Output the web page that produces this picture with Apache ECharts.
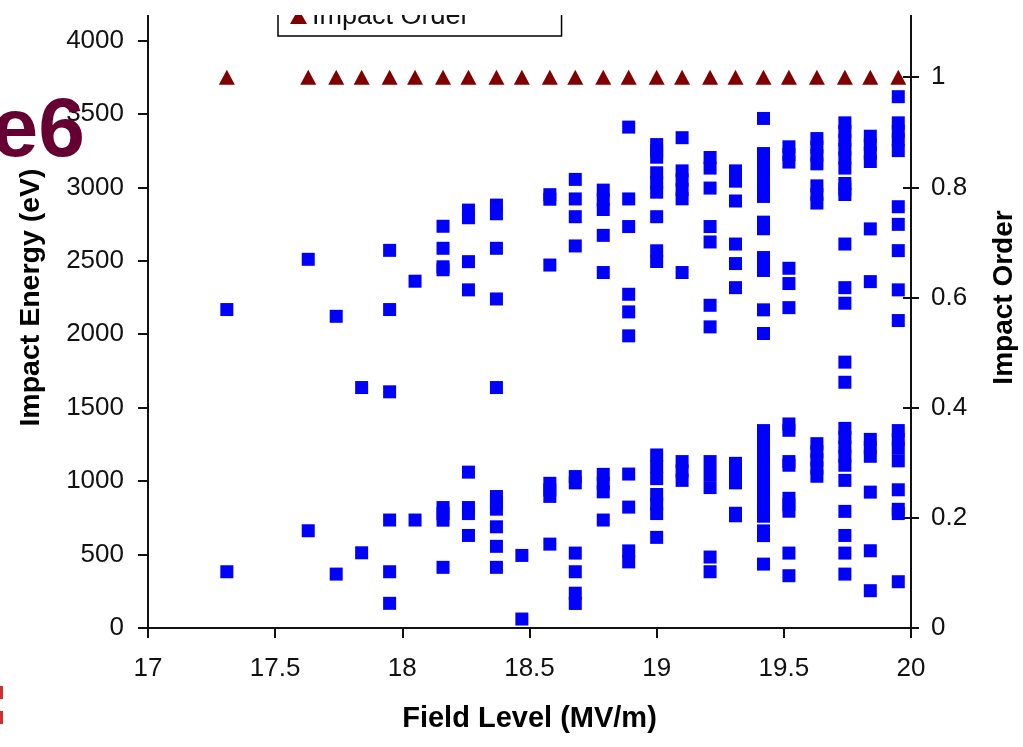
<!DOCTYPE html>
<html>
<head>
<meta charset="utf-8">
<script src="https://cdn.jsdelivr.net/npm/echarts@6/dist/echarts.min.js"></script>
<style>
html,body{margin:0;padding:0;background:#fff;}
#chart{width:1023px;height:747px;}
</style>
</head>
<body>
<div id="chart"></div>
<script>
// Field levels (MV/m) of each test column
const fieldLevels = [17.31, 17.63, 17.74, 17.84, 17.95, 18.05, 18.16, 18.26, 18.37, 18.47, 18.58, 18.68,
                     18.79, 18.89, 19.0, 19.1, 19.21, 19.31, 19.42, 19.52, 19.63, 19.74, 19.84, 19.95];

// Impact energies (eV) read for each field level, same order as fieldLevels
const energyByLevel = [
  [2168, 383],
  [2510, 662],
  [2122, 367],
  [1637, 512],
  [2571, 2168, 1608, 735, 383, 168],
  [2361, 735],
  [2735, 2585, 2459, 2439, 820, 778, 734, 413],
  [2845, 2793, 2494, 2302, 1061, 820, 779, 630],
  [2879, 2820, 2585, 2240, 1637, 895, 852, 809, 689, 556, 413],
  [494, 61],
  [2950, 2919, 2471, 985, 940, 896, 571],
  [3054, 2921, 2800, 2601, 1031, 988, 510, 383, 237, 167],
  [2981, 2915, 2849, 2673, 2420, 1046, 986, 927, 735],
  [3410, 2921, 2733, 2272, 2152, 1989, 1048, 823, 525, 450],
  [3291, 3248, 3205, 3099, 3033, 2967, 2800, 2568, 2495, 1178, 1098, 1017, 909, 844, 779, 617],
  [3338, 3112, 3050, 2985, 2922, 2420, 1133, 1069, 1005],
  [3203, 3131, 2995, 2733, 2628, 2197, 2050, 1133, 1045, 956, 483, 383],
  [3112, 3042, 2907, 2614, 2481, 2317, 1121, 1055, 988, 781, 764],
  [3469, 3230, 3171, 3112, 3054, 2996, 2938, 2763, 2718, 2522, 2478, 2434, 2166, 2005,
   1344, 1286, 1227, 1169, 1111, 1052, 994, 936, 877, 819, 761, 661, 629, 435],
  [3276, 3224, 3172, 2449, 2345, 2181, 1389, 1346, 1133, 1108, 883, 839, 795, 510, 356],
  [3332, 3274, 3217, 3160, 3010, 2952, 2893, 1255, 1200, 1144, 1089, 1033],
  [3439, 3380, 3320, 3260, 3200, 3131, 3026, 2988, 2951, 2614, 2317, 2211, 1810, 1673,
   1359, 1296, 1233, 1170, 1108, 1005, 794, 630, 510, 367],
  [3348, 3290, 3233, 3176, 2717, 2358, 1284, 1227, 1169, 925, 526, 254],
  [3617, 3439, 3381, 3323, 3250, 2868, 2748, 2569, 2302, 2093, 1344, 1284, 1224, 1138, 941, 808, 779, 315]
];

// Impact order value at each field level
const impactOrder = [1, 1, 1, 1, 1, 1, 1, 1, 1, 1, 1, 1, 1, 1, 1, 1, 1, 1, 1, 1, 1, 1, 1, 1];

const energyData = [];
fieldLevels.forEach((f, i) => energyByLevel[i].forEach(e => energyData.push([f, e])));
const orderData = fieldLevels.map((f, i) => [f, impactOrder[i]]);

const FONT = '"Liberation Sans", Arial, sans-serif';
const chart = echarts.init(document.getElementById('chart'), null, {renderer: 'canvas'});

const axisLineStyle = {color: '#111', width: 2};
const tickStyle = {color: '#111', width: 2};
const labelStyle = {color: '#111', fontSize: 26, fontFamily: FONT, formatter: v => String(v)};
const nameStyle = size => ({color: '#000', fontSize: size, fontWeight: 'bold', fontFamily: FONT});

chart.setOption({
  animation: false,
  backgroundColor: '#ffffff',
  grid: {left: 148, right: 112, top: -33, bottom: 119, containLabel: false, outerBoundsMode: 'none'},
  legend: {
    data: [{name: 'Impact Order', icon: 'triangle'}],
    left: 278, top: -5,
    padding: [8, 92, 6, 12],
    itemWidth: 17, itemHeight: 15, itemGap: 5,
    borderColor: '#000', borderWidth: 1.5,
    textStyle: {color: '#111', fontSize: 27, fontFamily: FONT}
  },
  xAxis: {
    type: 'value', min: 17, max: 20, interval: 0.5,
    name: 'Field Level (MV/m)', nameLocation: 'middle', nameGap: 76,
    nameTextStyle: nameStyle(29),
    axisLine: {show: true, onZero: false, lineStyle: axisLineStyle},
    axisTick: {show: true, length: 10, lineStyle: tickStyle},
    axisLabel: Object.assign({margin: 28}, labelStyle),
    splitLine: {show: false}
  },
  yAxis: [
    {
      type: 'value', position: 'left', min: 0, max: 4500, interval: 500,
      name: 'Impact Energy (eV)', nameLocation: 'middle', nameGap: 102, nameRotate: 90,
      nameTextStyle: nameStyle(28.5),
      axisLine: {show: true, lineStyle: axisLineStyle},
      axisTick: {show: true, length: 10, lineStyle: tickStyle},
      axisLabel: Object.assign({margin: 24}, labelStyle),
      splitLine: {show: false}
    },
    {
      type: 'value', position: 'right', min: 0, max: 1.2, interval: 0.2,
      name: 'Impact Order', nameLocation: 'middle', nameGap: 79, nameRotate: 90,
      nameTextStyle: nameStyle(28),
      axisLine: {show: true, lineStyle: axisLineStyle},
      axisTick: {show: true, length: 8, lineStyle: tickStyle},
      axisLabel: Object.assign({margin: 20}, labelStyle),
      splitLine: {show: false}
    },
    {
      type: 'value', position: 'right', min: 0, max: 1.2, interval: 0.2,
      axisLine: {show: false},
      axisTick: {show: true, inside: true, length: 8, lineStyle: tickStyle},
      axisLabel: {show: false},
      splitLine: {show: false}
    }
  ],
  series: [
    {
      name: 'Impact Energy', type: 'scatter', xAxisIndex: 0, yAxisIndex: 0,
      symbol: 'rect', symbolSize: 13,
      itemStyle: {color: '#0000FF', opacity: 1},
      data: energyData
    },
    {
      name: 'Impact Order', type: 'scatter', xAxisIndex: 0, yAxisIndex: 1,
      symbol: 'triangle', symbolSize: [16, 15],
      itemStyle: {color: '#800000', opacity: 1},
      data: orderData
    }
  ],
  graphic: [
    {type: 'rect', z: 1000, shape: {x: 0, y: 0, width: 1023, height: 15}, style: {fill: '#ffffff'}},
    {type: 'text', z: 1001, style: {text: 'e6', x: 85, y: 133, font: 'bold 84px ' + FONT,
      fill: '#660033', align: 'right', verticalAlign: 'middle'}},
    {type: 'rect', z: 1001, shape: {x: 0, y: 686, width: 3, height: 13}, style: {fill: '#d03030'}},
    {type: 'rect', z: 1001, shape: {x: 0, y: 711, width: 3, height: 13}, style: {fill: '#d03030'}}
  ]
});
</script>
</body>
</html>
